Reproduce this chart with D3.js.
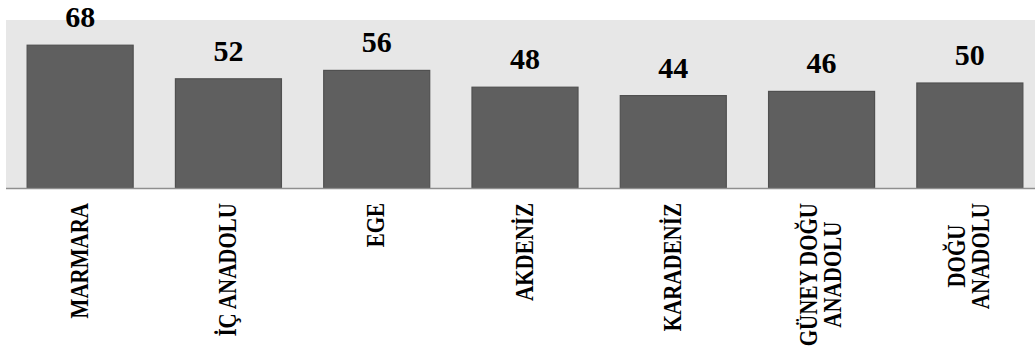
<!DOCTYPE html>
<html>
<head>
<meta charset="utf-8">
<script src="https://cdn.jsdelivr.net/npm/d3@7"></script>
<style>
  html, body { margin: 0; padding: 0; background: #ffffff; }
  svg { display: block; }
</style>
</head>
<body>
<svg id="chart" width="1035" height="353"></svg>
<script>
// Regions and their values
const regions = ["MARMARA", "İÇ ANADOLU", "EGE", "AKDENİZ", "KARADENİZ", "GÜNEY DOĞU ANADOLU", "DOĞU ANADOLU"];
const regionLines = [["MARMARA"], ["İÇ ANADOLU"], ["EGE"], ["AKDENİZ"], ["KARADENİZ"], ["GÜNEY DOĞU", "ANADOLU"], ["DOĞU", "ANADOLU"]];
const values = [68, 52, 56, 48, 44, 46, 50];
const yDomain = [0, 80];

const W = 1035, H = 353;
const plot = { left: 6, right: 1044, top: 20, bottom: 188 };
const FONT = "Liberation Serif";

const svg = d3.select("#chart");

const x = d3.scaleBand()
  .domain(regions)
  .range([plot.left, plot.right])
  .paddingInner(0.285)
  .paddingOuter(0.1425);

const y = d3.scaleLinear()
  .domain(yDomain)
  .range([plot.bottom, plot.top]);

// Plot area background
svg.append("rect")
  .attr("x", plot.left)
  .attr("y", plot.top)
  .attr("width", W - plot.left)
  .attr("height", plot.bottom - plot.top)
  .attr("fill", "#e7e7e7");

// Bars
svg.append("g").selectAll("rect")
  .data(values)
  .join("rect")
  .attr("x", (d, i) => x(regions[i]))
  .attr("y", d => y(d))
  .attr("width", x.bandwidth())
  .attr("height", d => y(0) - y(d))
  .attr("fill", "#5f5f5f")
  .attr("stroke", "#505050")
  .attr("stroke-width", 1.2);

// Category axis line
svg.append("line")
  .attr("x1", plot.left)
  .attr("x2", W)
  .attr("y1", y(0) + 0.5)
  .attr("y2", y(0) + 0.5)
  .attr("stroke", "#8f8f8f")
  .attr("stroke-width", 1.6);

// Value labels above the bars
svg.append("g").selectAll("text")
  .data(values)
  .join("text")
  .attr("x", (d, i) => x(regions[i]) + x.bandwidth() / 2)
  .attr("y", d => y(d) - 18)
  .attr("text-anchor", "middle")
  .attr("font-family", FONT)
  .attr("font-weight", "bold")
  .attr("font-size", 30)
  .attr("fill", "#000")
  .text(d => d);

// Rotated category labels, block top-aligned below the axis
const labelTop = 203;
const lineGap = 24;
const labelSize = 21;
const catG = svg.append("g");
regionLines.forEach((lines, i) => {
  const cx = x(regions[i]) + x.bandwidth() / 2;
  const g = catG.append("g");
  const texts = lines.map(t => g.append("text")
    .attr("text-anchor", "middle")
    .attr("font-family", FONT)
    .attr("font-weight", "bold")
    .attr("font-size", labelSize)
    .attr("fill", "#000")
    .text(t));
  const maxLen = d3.max(texts, t => t.node().getComputedTextLength());
  const cy = labelTop + maxLen / 2;
  const n = lines.length;
  texts.forEach((t, k) => {
    const off = (k - (n - 1) / 2) * lineGap;
    // baseline sits to the right of the line centre after rotation
    t.attr("transform", `translate(${cx + off + 7.5},${cy}) rotate(-90) scale(1,1.15)`);
  });
});
</script>
</body>
</html>
